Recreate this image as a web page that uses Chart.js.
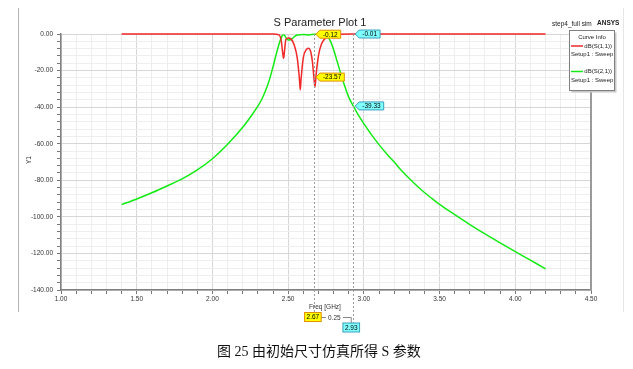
<!DOCTYPE html>
<html>
<head>
<meta charset="utf-8">
<script src="https://cdn.jsdelivr.net/npm/chart.js@4.4.1/dist/chart.umd.min.js"></script>
<style>
  html, body { margin: 0; padding: 0; background: #fff; }
  #wrap { position: relative; width: 633px; height: 369px; }
  #caption {
    position: absolute; left: 217px; top: 343px; white-space: nowrap;
    font-family: 'Liberation Serif', 'Noto Sans CJK SC', serif; font-size: 14px; line-height: 18px; color: #111;
  }
</style>
</head>
<body>
<div id="wrap">
  <canvas id="sparam" width="633" height="369"></canvas>
  <div id="caption">图 25 由初始尺寸仿真所得 S 参数</div>
</div>
<script>
// dB(S(2,1))
const s21Freq = [1.40, 1.50, 1.60, 1.70, 1.80, 1.90, 2.00, 2.10, 2.20, 2.25, 2.30, 2.33, 2.36, 2.38, 2.40, 2.42, 2.44, 2.455, 2.465, 2.475, 2.485, 2.50, 2.52, 2.54, 2.56, 2.60, 2.64, 2.67, 2.70, 2.73, 2.76, 2.78, 2.80, 2.82, 2.84, 2.86, 2.88, 2.90, 2.93, 2.96, 3.00, 3.05, 3.10, 3.15, 3.20, 3.25, 3.30, 3.35, 3.40, 3.45, 3.50, 3.60, 3.70, 3.80, 3.90, 4.00, 4.10, 4.20];
const s21Db = [-93.3, -90.2, -86.8, -83.1, -79.2, -74.3, -68.2, -60.3, -51, -45.5, -39.5, -35, -29, -24, -18, -11.5, -5.5, -2, -0.5, -0.6, -2, -3.3, -3.0, -1.5, -0.5, -0.3, -0.5, -0.12, -0.2, -0.5, -1.5, -4, -8.5, -14, -19.6, -25, -30, -34.5, -39.33, -43.8, -49, -55, -60.5, -65.5, -70, -74.8, -79, -83, -86.7, -90, -93.2, -98.8, -104.2, -109.3, -114.2, -119, -123.7, -128.4];

// dB(S(1,1))
const s11Freq = [1.40, 2.00, 2.40, 2.44, 2.455, 2.465, 2.47, 2.475, 2.485, 2.50, 2.52, 2.54, 2.56, 2.575, 2.58, 2.585, 2.60, 2.62, 2.635, 2.65, 2.66, 2.67, 2.677, 2.685, 2.70, 2.72, 2.75, 2.78, 2.82, 2.93, 3.50, 4.20];
const s11Db = [0, 0, -0.05, -0.5, -4, -11, -13.3, -10, -3, -2.2, -2.8, -6, -13, -25, -30.5, -25, -13, -8.5, -7.8, -10, -15, -23.57, -29, -22, -12, -5.5, -2, -0.5, -0.1, -0.01, 0, 0];

// markers m1 / m2
const markerFreq = [2.67, 2.93];
const markerS21 = [-0.12, -39.33];
const markerS11 = [-23.57, -0.01];
const markerDelta = '0.25';

const toPoints = (xs, ys) => xs.map((x, i) => ({ x: x, y: ys[i] }));
const FONT = "'Liberation Sans', Arial, sans-serif";

const isMajor = (v, step) => Math.abs(v / step - Math.round(v / step)) < 1e-6;

function drawTag(ctx, x, y, text, fill, stroke) {
  ctx.font = '6.5px ' + FONT;
  const w = ctx.measureText(text).width + 6;
  const h = 8;
  const left = x + 6;
  ctx.beginPath();
  ctx.moveTo(x + 2, y);
  ctx.lineTo(left, y - h / 2);
  ctx.lineTo(left + w, y - h / 2);
  ctx.lineTo(left + w, y + h / 2);
  ctx.lineTo(left, y + h / 2);
  ctx.closePath();
  ctx.fillStyle = fill;
  ctx.fill();
  ctx.strokeStyle = stroke;
  ctx.lineWidth = 1;
  ctx.stroke();
  ctx.fillStyle = '#000';
  ctx.textAlign = 'left';
  ctx.textBaseline = 'middle';
  ctx.fillText(text, left + 3, y + 0.5);
}

function drawBox(ctx, cx, cy, text, fill, stroke) {
  ctx.font = '6.5px ' + FONT;
  const w = ctx.measureText(text).width + 4;
  ctx.fillStyle = fill;
  ctx.fillRect(cx - w / 2, cy - 4.5, w, 9);
  ctx.strokeStyle = stroke;
  ctx.lineWidth = 1;
  ctx.strokeRect(cx - w / 2, cy - 4.5, w, 9);
  ctx.fillStyle = '#000';
  ctx.textAlign = 'center';
  ctx.textBaseline = 'middle';
  ctx.fillText(text, cx, cy + 0.5);
}

const decorations = {
  id: 'decorations',
  beforeDraw(chart) {
    const ctx = chart.ctx;
    ctx.save();
    ctx.fillStyle = '#fff';
    ctx.fillRect(0, 0, chart.width, chart.height);
    ctx.strokeStyle = '#b4b4b4';
    ctx.lineWidth = 1;
    ctx.beginPath();
    ctx.moveTo(18.5, 8); ctx.lineTo(18.5, 312);
    ctx.stroke();
    ctx.strokeStyle = '#e6e6e6';
    ctx.beginPath();
    ctx.moveTo(623.5, 8); ctx.lineTo(623.5, 312);
    ctx.stroke();
    ctx.restore();
  },
  afterDatasetsDraw(chart) {
    const ctx = chart.ctx;
    const xs = chart.scales.x, ys = chart.scales.y;
    const area = chart.chartArea;
    ctx.save();
    // right border of the plot
    ctx.strokeStyle = '#9a9a9a';
    ctx.lineWidth = 2;
    ctx.beginPath();
    ctx.moveTo(area.right, area.top); ctx.lineTo(area.right, area.bottom);
    ctx.stroke();

    // marker lines
    const ends = [312, 323];
    ctx.strokeStyle = '#9c9c9c';
    ctx.lineWidth = 1;
    ctx.setLineDash([2, 2]);
    markerFreq.forEach((f, i) => {
      const px = Math.round(xs.getPixelForValue(f)) + 0.5;
      ctx.beginPath();
      ctx.moveTo(px, area.top); ctx.lineTo(px, ends[i]);
      ctx.stroke();
    });
    ctx.setLineDash([]);

    const tagFill = ['#ffff00', '#80ffff'];
    const tagStroke = ['#e09000', '#3aa0b8'];
    markerFreq.forEach((f, i) => {
      const px = xs.getPixelForValue(f);
      drawTag(ctx, px, ys.getPixelForValue(markerS21[i]), markerS21[i].toFixed(2), tagFill[i], tagStroke[i]);
      drawTag(ctx, px, ys.getPixelForValue(markerS11[i]), markerS11[i].toFixed(2), tagFill[i], tagStroke[i]);
    });

    // x readout under the axis
    const p1 = xs.getPixelForValue(markerFreq[0]);
    const p2 = xs.getPixelForValue(markerFreq[1]);
    ctx.font = '6.5px ' + FONT;
    ctx.fillStyle = '#333';
    ctx.textAlign = 'center';
    ctx.textBaseline = 'middle';
    ctx.fillText('Freq [GHz]', 325, 307);
    ctx.strokeStyle = '#888';
    ctx.lineWidth = 1;
    ctx.beginPath();
    ctx.moveTo(p1 + 6, 317.5); ctx.lineTo(p1 + 12, 317.5);
    ctx.moveTo(p1 + 29, 317.5); ctx.lineTo(p2 - 2, 317.5); ctx.lineTo(p2 - 2, 323);
    ctx.stroke();
    ctx.fillText(markerDelta, p1 + 20.5, 318);
    drawBox(ctx, p1 - 1, 317, markerFreq[0].toFixed(2), tagFill[0], tagStroke[0]);
    drawBox(ctx, p2 - 2, 327.5, markerFreq[1].toFixed(2), tagFill[1], tagStroke[1]);
    ctx.restore();
  },
  afterDraw(chart) {
    const ctx = chart.ctx;
    ctx.save();
    // titles
    ctx.fillStyle = '#222';
    ctx.textBaseline = 'middle';
    ctx.textAlign = 'center';
    ctx.font = '11px ' + FONT;
    ctx.fillText('S Parameter Plot 1', 320, 23);
    ctx.font = '6.5px ' + FONT;
    ctx.textAlign = 'left';
    ctx.fillText('step4_full sim', 552, 24);
    ctx.font = 'bold 6.5px ' + FONT;
    ctx.fillText('ANSYS', 597, 23);

    // y axis name
    ctx.font = '6.5px ' + FONT;
    ctx.fillStyle = '#333';
    ctx.translate(29, 160);
    ctx.rotate(-Math.PI / 2);
    ctx.textAlign = 'center';
    ctx.fillText('Y1', 0, 0);
    ctx.setTransform(1, 0, 0, 1, 0, 0);

    // curve info box
    const bx = 569.5, by = 30.5, bw = 45, bh = 60;
    ctx.fillStyle = '#c8c8c8';
    ctx.fillRect(bx + 2, by + 2, bw, bh);
    ctx.fillStyle = '#fff';
    ctx.fillRect(bx, by, bw, bh);
    ctx.strokeStyle = '#808080';
    ctx.lineWidth = 1;
    ctx.strokeRect(bx, by, bw, bh);
    ctx.fillStyle = '#222';
    ctx.font = '6px ' + FONT;
    ctx.textAlign = 'center';
    ctx.fillText('Curve Info', bx + bw / 2, 37.5);
    const rows = [
      { color: 'rgb(240,40,40)', name: 'dB(S(1,1))', y: 46 },
      { color: 'rgb(20,235,20)', name: 'dB(S(2,1))', y: 71.5 }
    ];
    rows.forEach(r => {
      ctx.strokeStyle = r.color;
      ctx.lineWidth = 1.5;
      ctx.beginPath();
      ctx.moveTo(571, r.y); ctx.lineTo(583, r.y);
      ctx.stroke();
      ctx.fillStyle = '#222';
      ctx.textAlign = 'right';
      ctx.fillText(r.name, 612, r.y);
      ctx.textAlign = 'left';
      ctx.fillText('Setup1 : Sweep', 571, r.y + 8.5);
    });
    ctx.restore();
  }
};

const ctx = document.getElementById('sparam').getContext('2d');
const chart = new Chart(ctx, {
  type: 'line',
  data: {
    datasets: [
      {
        label: 'dB(S(1,1))',
        data: toPoints(s11Freq, s11Db),
        borderColor: 'rgb(240,40,40)',
        borderWidth: 1.5,
        pointRadius: 0,
        cubicInterpolationMode: 'monotone',
        clip: false
      },
      {
        label: 'dB(S(2,1))',
        data: toPoints(s21Freq, s21Db),
        borderColor: 'rgb(20,235,20)',
        borderWidth: 1.5,
        pointRadius: 0,
        cubicInterpolationMode: 'monotone',
        clip: false
      }
    ]
  },
  options: {
    responsive: false,
    animation: false,
    events: [],
    layout: { padding: { left: 0, top: 34, right: 42, bottom: 60 } },
    plugins: {
      legend: { display: false },
      title: { display: false },
      tooltip: { enabled: false }
    },
    scales: {
      x: {
        type: 'linear',
        min: 1,
        max: 4.5,
        afterFit: s => { s.height = 19; },
        ticks: {
          stepSize: 0.1,
          autoSkip: false,
          maxRotation: 0,
          padding: 1,
          color: '#333',
          font: { family: FONT, size: 6.5 },
          callback: v => isMajor(v, 0.5) ? v.toFixed(2) : ''
        },
        grid: {
          color: c => isMajor(c.tick.value, 0.5) ? '#d6d6d6' : '#eeeeee',
          tickColor: '#777',
          tickLength: 4
        },
        border: { color: '#808080', width: 1.5 }
      },
      y: {
        min: -140,
        max: 0,
        afterFit: s => { s.width = 61; },
        ticks: {
          stepSize: 4,
          autoSkip: false,
          padding: 4,
          color: '#333',
          font: { family: FONT, size: 6.5 },
          callback: v => isMajor(v, 20) ? v.toFixed(2) : ''
        },
        grid: {
          color: c => isMajor(c.tick.value, 20) ? '#d6d6d6' : '#eeeeee',
          tickColor: '#777',
          tickLength: 4
        },
        border: { color: '#808080', width: 1.5 }
      }
    }
  },
  plugins: [decorations]
});
</script>
</body>
</html>
